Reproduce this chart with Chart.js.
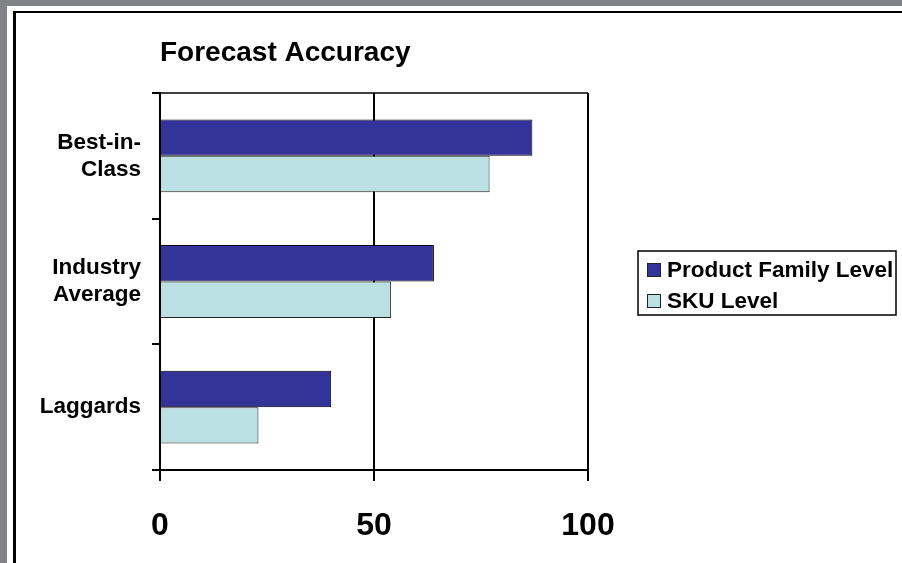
<!DOCTYPE html>
<html>
<head>
<meta charset="utf-8">
<script src="https://cdn.jsdelivr.net/npm/chart.js@4"></script>
<style>
  html, body { margin: 0; padding: 0; width: 902px; height: 563px; overflow: hidden; background: #808286; }
  #sheet { position: absolute; left: 7px; top: 6px; right: 0; bottom: 0; background: #fff; }
  #frame { position: absolute; left: 6px; top: 5px; right: -4px; bottom: -4px; border-left: 3px solid #000; border-top: 2px solid #000; }
  #chart { position: absolute; left: 0; top: 0; }
</style>
</head>
<body>
<div id="sheet"><div id="frame"></div></div>
<canvas id="chart" width="902" height="563"></canvas>
<script>
// categories, series and axis values
const categories = [['Best-in-', 'Class'], ['Industry', 'Average'], 'Laggards'];
const seriesNames = ['Product Family Level', 'SKU Level'];
const productFamily = [87, 64, 40];
const skuLevel = [77, 54, 23];
const xTicks = [0, 50, 100];

const FONT = "'Liberation Sans', Arial, sans-serif";
const DARK = '#333399';
const LIGHT = '#bbe0e3';

// top edge of the plot box (the 100 gridline closes the right side)
const plotTop = {
    id: 'plotTop',
    afterDraw(chart) {
        const { ctx, chartArea: a } = chart;
        ctx.save();
        ctx.strokeStyle = '#000';
        ctx.lineWidth = 1.5;
        ctx.beginPath();
        ctx.moveTo(a.left, a.top);
        ctx.lineTo(a.right, a.top);
        ctx.stroke();
        ctx.restore();
    }
};

// boxed legend to the right of the plot
const boxLegend = {
    id: 'boxLegend',
    afterDraw(chart) {
        const ctx = chart.ctx;
        const x = 638, y = 251, w = 258, h = 64;
        ctx.save();
        ctx.strokeStyle = '#000';
        ctx.lineWidth = 1.5;
        ctx.strokeRect(x, y, w, h);
        ctx.font = 'bold 22.5px ' + FONT;
        ctx.textBaseline = 'middle';
        chart.data.datasets.forEach((ds, i) => {
            const cy = 270 + i * 31;
            ctx.fillStyle = ds.backgroundColor;
            ctx.fillRect(647, cy - 7, 14, 14);
            ctx.lineWidth = 1;
            ctx.strokeStyle = '#222';
            ctx.strokeRect(647.5, cy - 6.5, 13, 13);
            ctx.fillStyle = '#000';
            ctx.fillText(ds.label, 667, cy + 1);
        });
        ctx.restore();
    }
};

new Chart(document.getElementById('chart'), {
    type: 'bar',
    data: {
        labels: categories,
        datasets: [
            { label: seriesNames[0], data: productFamily, backgroundColor: DARK, borderColor: '#000', borderWidth: 1 },
            { label: seriesNames[1], data: skuLevel, backgroundColor: LIGHT, borderColor: '#222', borderWidth: 1 }
        ]
    },
    options: {
        indexAxis: 'y',
        responsive: false,
        animation: false,
        categoryPercentage: 0.58,
        barPercentage: 1,
        layout: { padding: { left: 0, top: 0, right: 314, bottom: 0 } },
        plugins: {
            legend: { display: false },
            tooltip: { enabled: false },
            title: {
                display: true,
                text: 'Forecast Accuracy',
                align: 'start',
                fullSize: false,
                color: '#000',
                font: { family: FONT, size: 28, weight: 'bold' },
                padding: { top: 36, bottom: 23.4 }
            }
        },
        scales: {
            x: {
                min: 0,
                max: 100,
                afterFit(s) { s.height = 93; },
                afterBuildTicks(s) { s.ticks = xTicks.map(v => ({ value: v })); },
                grid: { color: '#000', lineWidth: 2, tickLength: 11 },
                border: { color: '#000', width: 2 },
                ticks: { color: '#000', padding: 26, font: { family: FONT, size: 32, weight: 'bold' } }
            },
            y: {
                afterFit(s) { s.width = 160; },
                grid: { drawOnChartArea: false, color: '#000', lineWidth: 2, tickLength: 8 },
                border: { color: '#000', width: 2 },
                ticks: { color: '#000', padding: 11, font: { family: FONT, size: 22.5, weight: 'bold', lineHeight: 1.2 } }
            }
        }
    },
    plugins: [plotTop, boxLegend]
});
</script>
</body>
</html>
